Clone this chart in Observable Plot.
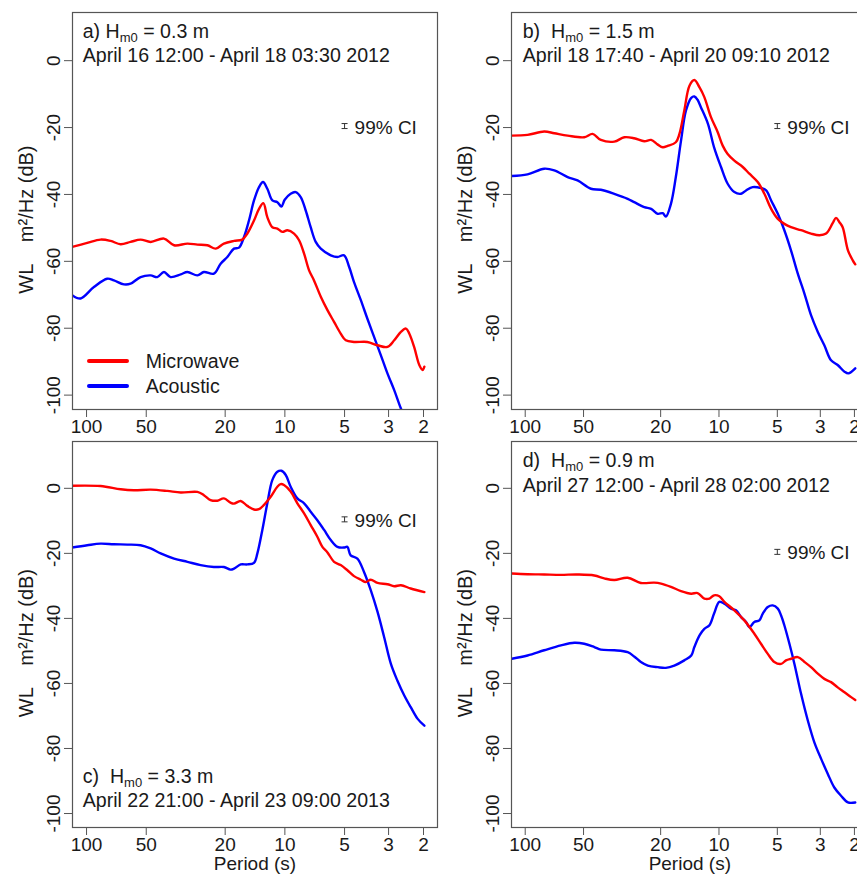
<!DOCTYPE html>
<html><head><meta charset="utf-8">
<script src="https://cdn.jsdelivr.net/npm/d3@7"></script>
<script src="https://cdn.jsdelivr.net/npm/@observablehq/plot@0.6"></script>
<style>
body{margin:0;background:#fff;}
#wrap{position:relative;width:857px;height:875px;overflow:hidden;background:#fff;font-family:"Liberation Sans",Arial,sans-serif;color:#1a1a1a;}
#wrap svg{position:absolute;}
.ttl{position:absolute;font-size:19.6px;line-height:19px;white-space:pre;}
.ttl sub{font-size:13px;vertical-align:-4px;line-height:0;}
</style></head><body><div id="wrap"></div>
<script>
// ---- data (period in s, spectral level in dB) ----
const periodTicks = [100, 50, 20, 10, 5, 3, 2];
const dbTicks = [-100, -80, -60, -40, -20, 0];
const seriesNames = ["Microwave", "Acoustic"];
const seriesColors = ["#ff0000", "#0000ff"];
const yLabel = "WL    m²/Hz (dB)  ";
const xLabel = "Period (s)";
const ciPeriod = 5;
const ciLevels = [-20, -20, -10, -20];
const panelTitles = [
  ["a) H<sub>m0</sub> = 0.3 m", "April 16 12:00 - April 18 03:30 2012"],
  ["b)  H<sub>m0</sub> = 1.5 m", "April 18 17:40 - April 20 09:10 2012"],
  ["c)  H<sub>m0</sub> = 3.3 m", "April 22 21:00 - April 23 09:00 2013"],
  ["d)  H<sub>m0</sub> = 0.9 m", "April 27 12:00 - April 28 02:00 2012"]
];

const aMicrowave = [[118.1,-55.7],[99.2,-54.5],[85.0,-53.5],[75.6,-53.9],[67.3,-54.9],[60.0,-54.2],[53.4,-53.5],[47.5,-54.2],[40.7,-53.2],[36.2,-55.2],[31.0,-54.7],[27.6,-55.0],[24.6,-55.2],[22.3,-56.2],[20.3,-54.7],[18.05,-53.9],[16.4,-53.5],[15.46,-51.7],[14.31,-47.8],[13.5,-44.3],[12.84,-42.6],[12.26,-46.8],[11.56,-49.8],[10.91,-50.2],[10.3,-51.2],[9.71,-50.7],[8.99,-51.7],[8.48,-53.7],[8.0,-57.7],[7.55,-62.7],[7.13,-65.7],[6.59,-70.6],[6.1,-74.6],[5.65,-78.1],[5.23,-81.6],[4.93,-83.6],[4.48,-84.1],[3.84,-84.1],[3.41,-85.1],[3.04,-85.6],[2.81,-83.6],[2.6,-81.1],[2.45,-80.1],[2.36,-81.6],[2.23,-85.6],[2.1,-91.0],[2.02,-92.5],[1.98,-91.5]];
const aAcoustic = [[118.1,-70.1],[107.2,-71.1],[91.8,-67.7],[78.7,-65.2],[72.8,-65.7],[64.8,-66.9],[60.0,-66.7],[53.4,-64.7],[47.5,-64.2],[44.0,-64.7],[40.7,-63.2],[37.7,-64.7],[33.5,-63.9],[31.0,-63.2],[27.6,-64.2],[25.6,-63.2],[22.8,-63.7],[21.08,-60.7],[19.5,-58.7],[18.05,-56.2],[17.03,-55.9],[16.07,-52.7],[15.17,-47.8],[14.31,-41.8],[13.5,-37.8],[12.89,-36.3],[12.26,-38.3],[11.56,-41.8],[10.91,-42.3],[10.41,-43.6],[10.02,-41.6],[9.35,-39.8],[8.82,-39.3],[8.32,-40.8],[7.85,-44.8],[7.41,-49.8],[6.99,-54.2],[6.59,-56.2],[5.87,-58.2],[5.43,-58.7],[5.03,-58.2],[4.74,-61.7],[4.48,-66.2],[4.14,-71.6],[3.84,-77.1],[3.55,-82.6],[3.28,-88.1],[3.04,-93.5],[2.81,-98.5],[2.6,-104.0],[2.45,-107.5]];

const bMicrowave = [[117.2,-22.4],[97.3,-22.2],[79.8,-21.2],[70.8,-21.7],[60.4,-22.4],[49.6,-22.9],[44.9,-21.9],[40.7,-23.7],[34.7,-24.2],[30.8,-22.9],[27.4,-23.2],[24.3,-24.1],[22.4,-23.7],[20.7,-25.1],[19.5,-25.9],[18.4,-25.5],[16.7,-24.4],[16.0,-21.9],[15.1,-14.9],[14.2,-7.5],[13.4,-5.8],[12.6,-8.0],[11.9,-10.9],[11.0,-16.9],[10.15,-21.4],[9.57,-25.4],[9.02,-27.9],[8.33,-29.9],[7.54,-31.8],[6.97,-33.8],[6.31,-36.3],[5.83,-39.8],[5.38,-44.3],[4.97,-47.3],[4.6,-48.8],[4.25,-49.8],[3.77,-50.7],[3.35,-51.7],[3.03,-52.2],[2.8,-51.7],[2.59,-48.6],[2.49,-47.0],[2.39,-48.3],[2.3,-49.8],[2.16,-56.7],[2.04,-59.7],[1.98,-60.9]];
const bAcoustic = [[117.2,-34.5],[97.3,-34.0],[79.8,-32.3],[70.8,-32.8],[60.4,-34.8],[53.7,-35.8],[45.8,-38.3],[40.7,-38.6],[34.7,-39.8],[29.6,-41.3],[27.4,-42.3],[24.3,-43.8],[22.4,-44.3],[20.7,-45.8],[19.5,-45.6],[18.8,-46.6],[17.7,-42.8],[16.7,-34.8],[15.7,-23.9],[14.8,-14.9],[13.9,-11.1],[13.4,-10.7],[12.9,-11.7],[12.4,-13.9],[11.4,-18.9],[10.6,-25.9],[9.76,-31.8],[9.02,-36.8],[8.33,-39.3],[7.69,-39.8],[7.25,-38.8],[6.7,-37.8],[6.07,-38.1],[5.71,-38.8],[5.38,-41.8],[4.97,-45.8],[4.6,-50.7],[4.25,-56.7],[3.92,-63.7],[3.62,-69.7],[3.35,-76.1],[3.09,-81.1],[2.86,-85.1],[2.64,-89.6],[2.44,-91.0],[2.25,-93.0],[2.15,-93.5],[1.98,-92.0]];

const cMicrowave = [[118.1,0.8],[85.0,0.7],[67.3,-0.3],[57.7,-0.6],[47.5,-0.4],[39.2,-0.8],[33.5,-1.3],[27.6,-1.1],[25.6,-2.1],[23.7,-3.6],[21.9,-3.8],[20.3,-3.1],[18.8,-4.4],[18.05,-4.7],[16.7,-3.9],[15.46,-5.4],[14.31,-6.5],[13.5,-6.4],[12.74,-5.1],[11.79,-2.6],[10.91,0.5],[10.5,1.3],[10.1,1.0],[9.35,-1.0],[8.65,-4.6],[8.0,-7.7],[7.41,-11.3],[6.86,-14.9],[6.47,-18.0],[6.1,-19.7],[5.65,-22.6],[5.23,-23.6],[4.84,-25.2],[4.48,-27.0],[4.14,-28.1],[3.91,-28.8],[3.69,-28.1],[3.41,-29.1],[3.04,-29.5],[2.81,-30.1],[2.6,-29.8],[2.32,-30.8],[1.98,-31.9]];
const cAcoustic = [[118.1,-18.2],[99.2,-17.5],[85.0,-17.0],[72.8,-17.2],[62.3,-17.3],[53.4,-17.5],[47.5,-18.5],[42.3,-20.0],[36.2,-21.6],[31.0,-22.6],[26.6,-23.6],[22.8,-24.2],[20.3,-24.2],[18.8,-25.0],[18.05,-24.7],[16.7,-23.4],[15.46,-23.4],[14.31,-22.9],[13.76,-20.0],[12.99,-12.8],[12.26,-4.6],[11.56,2.6],[10.91,5.1],[10.41,5.4],[9.9,4.1],[9.35,0.5],[8.65,-3.1],[8.0,-4.6],[7.41,-7.2],[6.86,-9.8],[6.34,-12.8],[5.87,-15.9],[5.43,-18.0],[5.03,-18.2],[4.84,-18.0],[4.66,-20.6],[4.31,-21.6],[3.99,-25.7],[3.69,-31.3],[3.41,-38.0],[3.16,-45.7],[2.92,-54.0],[2.71,-59.1],[2.5,-63.7],[2.32,-67.3],[2.14,-70.9],[1.98,-73.0]];

const dMicrowave = [[117.2,-26.2],[97.3,-26.4],[79.8,-26.5],[65.4,-26.6],[53.7,-26.5],[44.0,-26.8],[39.1,-27.7],[34.7,-28.2],[29.6,-27.5],[25.3,-29.1],[21.6,-29.0],[19.9,-29.3],[17.7,-30.3],[15.7,-31.6],[13.9,-32.4],[12.9,-32.2],[11.9,-33.9],[11.2,-33.9],[10.6,-32.9],[9.96,-33.2],[9.38,-34.9],[8.33,-37.5],[7.4,-40.6],[6.57,-44.7],[6.07,-47.8],[5.6,-50.9],[5.18,-53.4],[4.78,-54.0],[4.51,-52.9],[4.25,-52.4],[3.92,-51.9],[3.62,-53.4],[3.35,-55.0],[3.09,-57.0],[2.86,-58.6],[2.64,-59.6],[2.44,-61.2],[2.25,-62.7],[2.08,-64.2],[1.98,-65.1]];
const dAcoustic = [[117.2,-52.4],[97.3,-51.4],[79.8,-49.8],[65.4,-48.3],[55.8,-47.5],[49.6,-47.8],[44.0,-48.8],[40.7,-49.6],[34.7,-49.8],[29.6,-50.4],[27.4,-51.7],[25.3,-53.4],[23.3,-54.5],[20.7,-55.0],[18.8,-55.2],[17.0,-54.5],[15.1,-52.9],[13.9,-51.4],[13.4,-48.8],[12.6,-45.2],[11.9,-43.2],[11.2,-42.1],[10.6,-38.5],[9.96,-34.9],[9.38,-35.5],[8.67,-37.0],[8.17,-37.5],[7.69,-39.6],[7.25,-41.1],[6.97,-42.7],[6.57,-41.1],[6.19,-40.6],[5.94,-38.5],[5.6,-36.5],[5.28,-36.0],[4.97,-37.0],[4.78,-39.1],[4.6,-42.1],[4.33,-47.8],[4.08,-54.0],[3.77,-63.2],[3.48,-71.4],[3.22,-78.1],[2.97,-83.2],[2.74,-87.9],[2.54,-92.0],[2.34,-94.6],[2.16,-96.6],[1.98,-96.6]];

// ---- layout ----
const wrap = document.getElementById("wrap");
const FONT = "'Liberation Sans', Arial, Helvetica, sans-serif";
const layouts = [
  {left: 0,   top: 0,   w: 440, h: 440, ml: 72, mr: 3,    mt: 12, mb: 31, xlabel: false, tx: 82.7,  ty: [31, 55]},
  {left: 440, top: 0,   w: 440, h: 440, ml: 71, mr: 12.4, mt: 12, mb: 31, xlabel: false, tx: 522.7, ty: [31, 55]},
  {left: 0,   top: 430, w: 440, h: 445, ml: 72, mr: 3,    mt: 11, mb: 48, xlabel: true,  tx: 82.7,  ty: [776.7, 800]},
  {left: 440, top: 430, w: 440, h: 445, ml: 71, mr: 12.4, mt: 11, mb: 48, xlabel: true,  tx: 522.7, ty: [460, 485]}
];
const panelData = [[aMicrowave, aAcoustic], [bMicrowave, bAcoustic], [cMicrowave, cAcoustic], [dMicrowave, dAcoustic]];

const ciSymbol = {
  draw(ctx) {
    const w = 3, h = 2.5;
    ctx.moveTo(-w, -h); ctx.lineTo(w, -h);
    ctx.moveTo(0, -h); ctx.lineTo(0, h);
    ctx.moveTo(-w, h); ctx.lineTo(w, h);
  }
};
const toRows = (arr) => arr.map(([period, db]) => ({period, db}));

layouts.forEach((L, i) => {
  const [micro, acou] = panelData[i].map(toRows);
  const marks = [
    Plot.line(acou, {x: "period", y: "db", stroke: seriesColors[1], strokeWidth: 2.4, curve: "catmull-rom", clip: true}),
    Plot.line(micro, {x: "period", y: "db", stroke: seriesColors[0], strokeWidth: 2.4, curve: "catmull-rom", clip: true}),
    Plot.frame({stroke: "#555", strokeWidth: 1.2}),
    Plot.axisX({ticks: periodTicks, tickFormat: d => String(d), tickSize: 8, tickPadding: 2, stroke: "#555", label: null}),
    Plot.axisY({ticks: dbTicks, tickFormat: d => String(d), tickSize: 8, tickRotate: -90, tickPadding: 5, stroke: "#555", label: null}),
    Plot.text([yLabel], {text: d => d, frameAnchor: "left", rotate: -90, dx: -45.5, dy: 3, fontSize: 20, textAnchor: "middle", lineAnchor: "middle"}),
    Plot.dot([{period: ciPeriod, db: ciLevels[i]}], {x: "period", y: "db", symbol: ciSymbol, r: 3, stroke: "#333", fill: "none", strokeWidth: 1, dy: -1.5}),
    Plot.text([{period: ciPeriod, db: ciLevels[i]}], {x: "period", y: "db", text: () => "99% CI", dx: 10, textAnchor: "start"})
  ];
  if (L.xlabel) marks.push(Plot.text([xLabel], {text: d => d, frameAnchor: "bottom", dy: 36.5, textAnchor: "middle", lineAnchor: "middle"}));
  const svg = Plot.plot({
    width: L.w, height: L.h,
    marginLeft: L.ml, marginRight: L.mr, marginTop: L.mt, marginBottom: L.mb,
    style: {background: "transparent", fontFamily: FONT, fontSize: "19px", color: "#1a1a1a", overflow: "visible", maxWidth: "none"},
    x: {type: "log", domain: [117.7, 1.7]},
    y: {domain: [-104.3, 14.4]},
    marks
  });
  svg.style.left = L.left + "px";
  svg.style.top = L.top + "px";
  wrap.appendChild(svg);

  panelTitles[i].forEach((t, k) => {
    const d = document.createElement("div");
    d.className = "ttl";
    d.innerHTML = t;
    d.style.left = L.tx + "px";
    d.style.top = (L.ty[k] - 9.5) + "px";
    wrap.appendChild(d);
  });
});

// legend (panel a)
const leg = document.createElementNS("http://www.w3.org/2000/svg", "svg");
leg.setAttribute("width", 200); leg.setAttribute("height", 60);
leg.style.left = "80px"; leg.style.top = "345px";
seriesNames.forEach((name, k) => {
  const y = 16 + k * 25;
  const ln = document.createElementNS(leg.namespaceURI, "line");
  ln.setAttribute("x1", 9); ln.setAttribute("x2", 47); ln.setAttribute("y1", y); ln.setAttribute("y2", y);
  ln.setAttribute("stroke", seriesColors[k]); ln.setAttribute("stroke-width", 4); ln.setAttribute("stroke-linecap", "round");
  leg.appendChild(ln);
  const tx = document.createElementNS(leg.namespaceURI, "text");
  tx.setAttribute("x", 65.7); tx.setAttribute("y", y + 7);
  tx.setAttribute("font-family", FONT); tx.setAttribute("font-size", 19.6); tx.setAttribute("fill", "#1a1a1a");
  tx.textContent = name;
  leg.appendChild(tx);
});
wrap.appendChild(leg);
</script></body></html>
